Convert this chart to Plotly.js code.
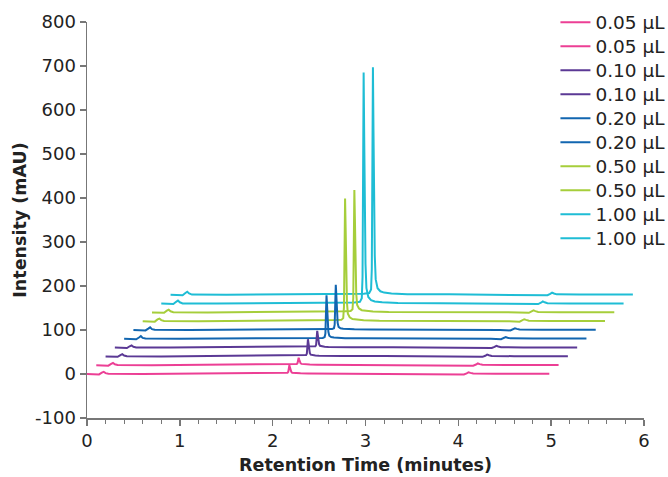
<!DOCTYPE html>
<html>
<head>
<meta charset="utf-8">
<script src="https://cdn.plot.ly/plotly-3.0.1.min.js"></script>
<style>html,body{margin:0;padding:0;background:#fff;}#chart{width:668px;height:477px;}</style>
</head>
<body>
<div id="chart"></div>
<script>
// Trace-relative retention time (minutes), shared by all injections
const retentionTime = [0.00, 0.10, 0.13, 0.16, 0.18, 0.20, 0.23, 0.60, 1.20, 1.70, 1.95, 2.08, 2.14, 2.16, 2.168, 2.174, 2.180, 2.186, 2.192, 2.200, 2.210, 2.230, 2.260, 2.300, 2.380, 2.550, 3.00, 3.60, 3.95, 4.06, 4.09, 4.11, 4.13, 4.16, 4.40, 4.98];

// Intensity above each trace's own baseline (mAU)
const inj005a = [0, 0, -1, 3, 5, 2, 0.5, 0, 0.5, 1, 1.5, 1.5, 1.5, 3, 5, 13, 20, 15, 9, 5, 3, 2.5, 2, 1.5, 1.2, 1, 1, 0.5, 0, -1, 1.5, 4, 2.5, 1, 0.5, 0.5];
const inj005b = [0, 0, -1, 3, 5, 2, 0.5, 0, 0.5, 1, 1.5, 1.5, 1.5, 3, 5, 11, 17, 13, 8, 4.5, 3, 2.5, 2, 1.5, 1.2, 1, 1, 0.5, 0, -1, 1.5, 4, 2.5, 1, 0.5, 0.5];
const inj010a = [0, 0, -1, 3, 5, 2, 0.5, 0, 0.5, 1, 1.5, 1.5, 1.5, 3, 6, 23, 39, 30, 16, 8, 4, 3, 2, 1.5, 1.2, 1, 1, 0.5, 0, -1, 1.5, 4, 2.5, 1, 0.5, 0.5];
const inj010b = [0, 0, -1, 3, 5, 2, 0.5, 0, 0.5, 1, 1.5, 1.5, 1.5, 3, 6, 22, 38, 29, 16, 8, 4, 3, 2, 1.5, 1.2, 1, 1, 0.5, 0, -1, 1.5, 4, 2.5, 1, 0.5, 0.5];
const inj020a = [0, 0, -1, 3, 6, 2, 0.5, 0, 0.5, 1, 1.5, 2, 2, 4, 12, 57, 99, 75, 38, 16, 7, 4, 3, 2, 1.5, 1, 1, 0.5, 0, -1, 1.5, 4, 2.5, 1, 0.5, 0.5];
const inj020b = [0, 0, -1, 3, 6, 2, 0.5, 0, 0.5, 1, 1.5, 2, 2, 4, 12, 59, 103, 78, 39, 16, 7, 4, 3, 2, 1.5, 1, 1, 0.5, 0, -1, 1.5, 4, 2.5, 1, 0.5, 0.5];
const inj050a = [0, 0, -1, 4, 6, 2.5, 0.5, 0, 0.5, 1, 2, 2.5, 3, 7, 32, 160, 279, 212, 106, 43, 17, 9, 5, 3.5, 2, 1, 1, 0.5, 0, -1, 2, 4.5, 3, 1, 0.5, 0.5];
const inj050b = [0, 0, -1, 4, 6, 2.5, 0.5, 0, 0.5, 1, 2, 2.5, 3, 7, 32, 159, 278, 211, 105, 43, 17, 9, 5, 3.5, 2, 1, 1, 0.5, 0, -1, 2, 4.5, 3, 1, 0.5, 0.5];
const inj100a = [0, 0, -1, 4, 7, 3, 0.5, 0, 0.5, 1, 2, 2.5, 4, 12, 60, 300, 525, 380, 200, 90, 35, 15, 8, 5, 3, 1.5, 1, 0.5, 0, -1, 2, 5, 3, 1, 0.5, 0.5];
const inj100b = [0, 0, -1, 4, 7, 3, 0.5, 0, 0.5, 1, 2, 2.5, 4, 12, 59, 295, 517, 374, 197, 88, 35, 15, 8, 5, 3, 1.5, 1, 0.5, 0, -1, 2, 5, 3, 1, 0.5, 0.5];

const seriesValues = [inj005a, inj005b, inj010a, inj010b, inj020a, inj020b, inj050a, inj050b, inj100a, inj100b];
const seriesLabels = ["0.05 µL", "0.05 µL", "0.10 µL", "0.10 µL", "0.20 µL", "0.20 µL", "0.50 µL", "0.50 µL", "1.00 µL", "1.00 µL"];

// Waterfall display offsets
const timeOffset = [0, 0.1, 0.2, 0.3, 0.4, 0.5, 0.6, 0.7, 0.8, 0.9];
const intensityOffset = [0, 20, 40, 60, 80, 100, 120, 140, 160, 180];

// Axis ticks
const yTickVals = [-100, 0, 100, 200, 300, 400, 500, 600, 700, 800];
const yTickText = ["-100", "0", "100", "200", "300", "400", "500", "600", "700", "800"];

const colors = ["#EC3F95", "#EC3F95", "#5B3995", "#5B3995", "#1266B0", "#1266B0", "#A6CE3B", "#A6CE3B", "#1FBDD5", "#1FBDD5"];

const traces = [];
for (let i = seriesValues.length - 1; i >= 0; i--) {
  traces.push({
    type: 'scatter',
    mode: 'lines',
    name: '<span style="font-size:18.5px">' + seriesLabels[i] + '</span>',
    x: retentionTime.map(t => t + timeOffset[i]),
    y: seriesValues[i].map(v => v + intensityOffset[i]),
    line: {color: colors[i], width: 2},
    legendrank: i + 1,
    hoverinfo: 'skip'
  });
}

const fam = 'DejaVu Sans, Verdana, sans-serif';
const font = {family: fam, size: 18, color: '#222'};

const layout = {
  width: 668, height: 477,
  margin: {l: 87, r: 24, t: 22, b: 59, autoexpand: false},
  paper_bgcolor: '#fff', plot_bgcolor: '#fff',
  font: font,
  showlegend: true,
  legend: {
    x: 0.841, y: 1.042, xanchor: 'left', yanchor: 'top',
    font: {family: fam, size: 16.15, color: '#222'},
    bgcolor: 'rgba(0,0,0,0)', itemwidth: 30, maxheight: 1
  },
  xaxis: {
    range: [0, 6], dtick: 1, tick0: 0,
    showgrid: false, zeroline: false,
    showline: true, linecolor: '#777', linewidth: 1.5,
    ticks: 'outside', ticklen: 6, tickcolor: '#777', tickwidth: 1.5,
    minor: {dtick: 0.2, ticks: 'outside', ticklen: 4, tickcolor: '#777', tickwidth: 1, showgrid: false},
    title: {text: '<b>Retention Time (minutes)</b>', font: {family: fam, size: 17.5, color: '#222'}, standoff: 8},
    tickfont: font
  },
  yaxis: {
    range: [-100, 800], tickmode: 'array', tickvals: yTickVals, ticktext: yTickText,
    showgrid: false, zeroline: false,
    showline: true, linecolor: '#777', linewidth: 1.5,
    ticks: 'outside', ticklen: 6, tickcolor: '#777', tickwidth: 1.5,
    title: {text: '<b>Intensity (mAU)</b>', font: {family: fam, size: 17.5, color: '#222'}, standoff: 4},
    tickfont: font
  }
};

Plotly.newPlot('chart', traces, layout, {displayModeBar: false, staticPlot: true});
</script>
</body>
</html>
